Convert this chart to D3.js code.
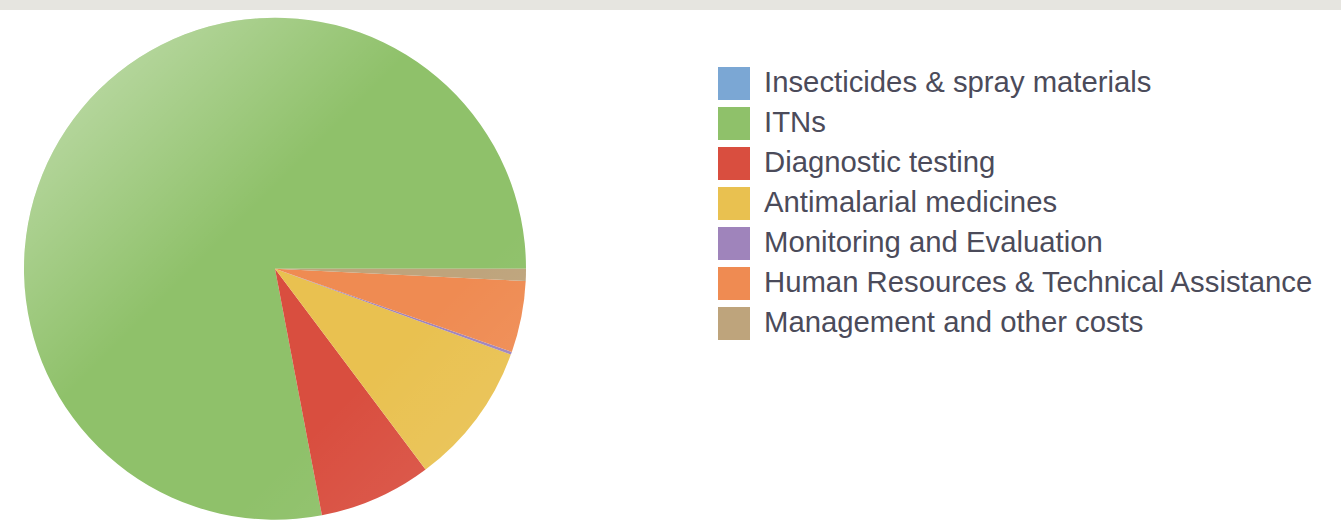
<!DOCTYPE html>
<html><head><meta charset="utf-8">
<script src="https://cdn.jsdelivr.net/npm/d3@7"></script>
<style>html,body{margin:0;padding:0;background:#fff;}svg{display:block;}</style>
</head><body>
<svg id="c" width="1341" height="527"></svg>
<script>
const categories = ["Insecticides & spray materials","ITNs","Diagnostic testing","Antimalarial medicines","Monitoring and Evaluation","Human Resources & Technical Assistance","Management and other costs"];
const values = [0.0, 78.0, 7.25, 9.2, 0.18, 4.6, 0.78];
const colors = ["#7ba7d4","#8fc16a","#d94e3f","#e9c150","#9f84bb","#ef8b52","#bea47c"];

const svg = d3.select("#c");
svg.append("rect").attr("x",0).attr("y",0).attr("width",1341).attr("height",10).attr("fill","#e6e5e0");

const defs = svg.append("defs");
const g1 = defs.append("linearGradient").attr("id","shine").attr("x1","0").attr("y1","0").attr("x2","1").attr("y2","1");
g1.append("stop").attr("offset","0").attr("stop-color","#fff").attr("stop-opacity",0.5);
g1.append("stop").attr("offset","0.42").attr("stop-color","#fff").attr("stop-opacity",0);
g1.append("stop").attr("offset","0.7").attr("stop-color","#fff").attr("stop-opacity",0);
g1.append("stop").attr("offset","1").attr("stop-color","#fff").attr("stop-opacity",0.12);

const cx = 275, cy = 268.7, r = 251;
const pie = d3.pie().value(d => d).sort(null).startAngle(Math.PI/2).endAngle(Math.PI/2 - 2*Math.PI);
const arcs = pie(values);
const arc = d3.arc().innerRadius(0).outerRadius(r);
const pg = svg.append("g").attr("transform",`translate(${cx},${cy})`);
pg.selectAll("path.s").data(arcs).join("path").attr("class","s")
  .attr("d", arc).attr("fill",(d,i)=>colors[i]);
pg.append("circle").attr("r", r).attr("fill","url(#shine)");

const lg = svg.append("g").attr("transform","translate(718,67)");
const rows = lg.selectAll("g").data(categories).join("g").attr("transform",(d,i)=>`translate(0,${i*40})`);
rows.append("rect").attr("width",32).attr("height",33).attr("fill",(d,i)=>colors[i]);
rows.append("text").attr("x",46).attr("y",24.5).text(d=>d)
  .attr("font-family","Liberation Sans, Arial, sans-serif").attr("font-size",29.3).attr("fill","#4b4b5a");
</script>
</body></html>
